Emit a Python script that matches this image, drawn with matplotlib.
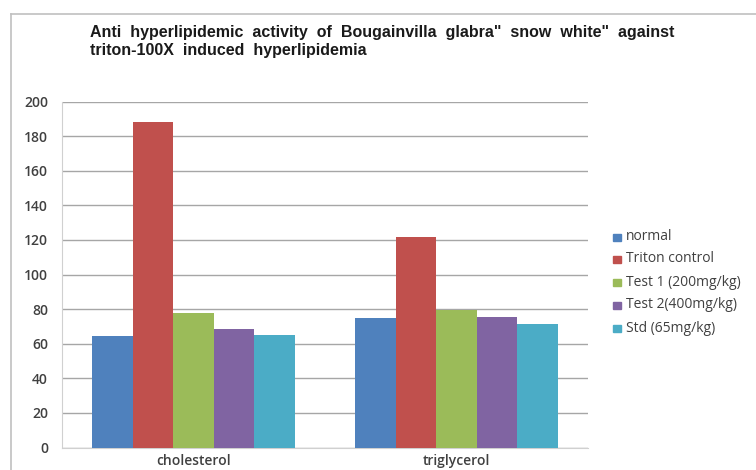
import matplotlib
matplotlib.use('Agg')
import matplotlib.pyplot as plt
import numpy as np
from matplotlib.patches import Rectangle
from matplotlib.lines import Line2D

# data
categories = ['cholesterol', 'triglycerol']
series_names = ['normal', 'Triton control', 'Test 1 (200mg/kg)',
                'Test 2(400mg/kg)', 'Std (65mg/kg)']
normal = [64.6, 74.9]
triton = [188.3, 121.5]
test1 = [77.6, 79.5]
test2 = [68.7, 75.6]
std = [64.9, 71.4]
colores = ['#4F81BD', '#C0504D', '#9BBB59', '#8064A2', '#4BACC6']
yticks = [0, 20, 40, 60, 80, 100, 120, 140, 160, 180, 200]

fig = plt.figure(figsize=(7.56, 4.70), dpi=100)
ax = fig.add_axes([62/756, 1-447.5/470, 526/756, 346/470])

# moldura do grafico (estilo excel)
fig.add_artist(Line2D([11/756, 11/756], [0, 1-14/470], transform=fig.transFigure,
                      color='#c0c0c0', lw=1.2))
fig.add_artist(Line2D([11/756, 1], [1-14/470, 1-14/470], transform=fig.transFigure,
                      color='#c0c0c0', lw=1.2))

x = np.arange(len(categories))
largura = 0.77 / 5
todas = [normal, triton, test1, test2, std]
for i, valores in enumerate(todas):
    ax.bar(x + (i - 2) * largura, valores, largura, color=colores[i],
           label=series_names[i], zorder=3)

ax.set_xlim(-0.5, 1.5)
ax.set_ylim(0, 200)
ax.set_yticks(yticks)
ax.set_xticks(x)
ax.set_xticklabels(categories)
ax.yaxis.grid(True, color='#a6a6a6', lw=1, zorder=0)
ax.tick_params(axis='both', length=0, labelsize=10, labelcolor='#404040')
ax.tick_params(axis='y', pad=10)
ax.tick_params(axis='x', pad=5)
for lbl in ax.get_xticklabels() + ax.get_yticklabels():
    lbl.set_fontfamily('Open Sans')
    lbl.set_fontweight('semibold')
for s in ['top', 'right']:
    ax.spines[s].set_visible(False)
for s in ['left', 'bottom']:
    ax.spines[s].set_color('#d0d0d0')

# titulo em duas linhas
fig.text(90/756, 1-33/470,
         'Anti  hyperlipidemic  activity  of  Bougainvilla  glabra"  snow  white"  against',
         fontsize=11.5, fontweight='bold', family='Liberation Sans',
         color='#1a1a1a', va='center', ha='left')
fig.text(90/756, 1-50.5/470, 'triton-100X  induced  hyperlipidemia',
         fontsize=11.5, fontweight='bold', family='Liberation Sans',
         color='#1a1a1a', va='center', ha='left')

# legenda
ys = [237, 259, 282, 305, 328]
for i, nome in enumerate(series_names):
    fig.add_artist(Rectangle((613/756, 1-(ys[i]+3.5)/470), 8/756, 7/470,
                             transform=fig.transFigure, color=colores[i]))
    fig.text(626/756, 1-ys[i]/470, nome, fontsize=10, family='Open Sans',
             color='#404040', va='center', ha='left')

plt.savefig('out.png', dpi=100)
